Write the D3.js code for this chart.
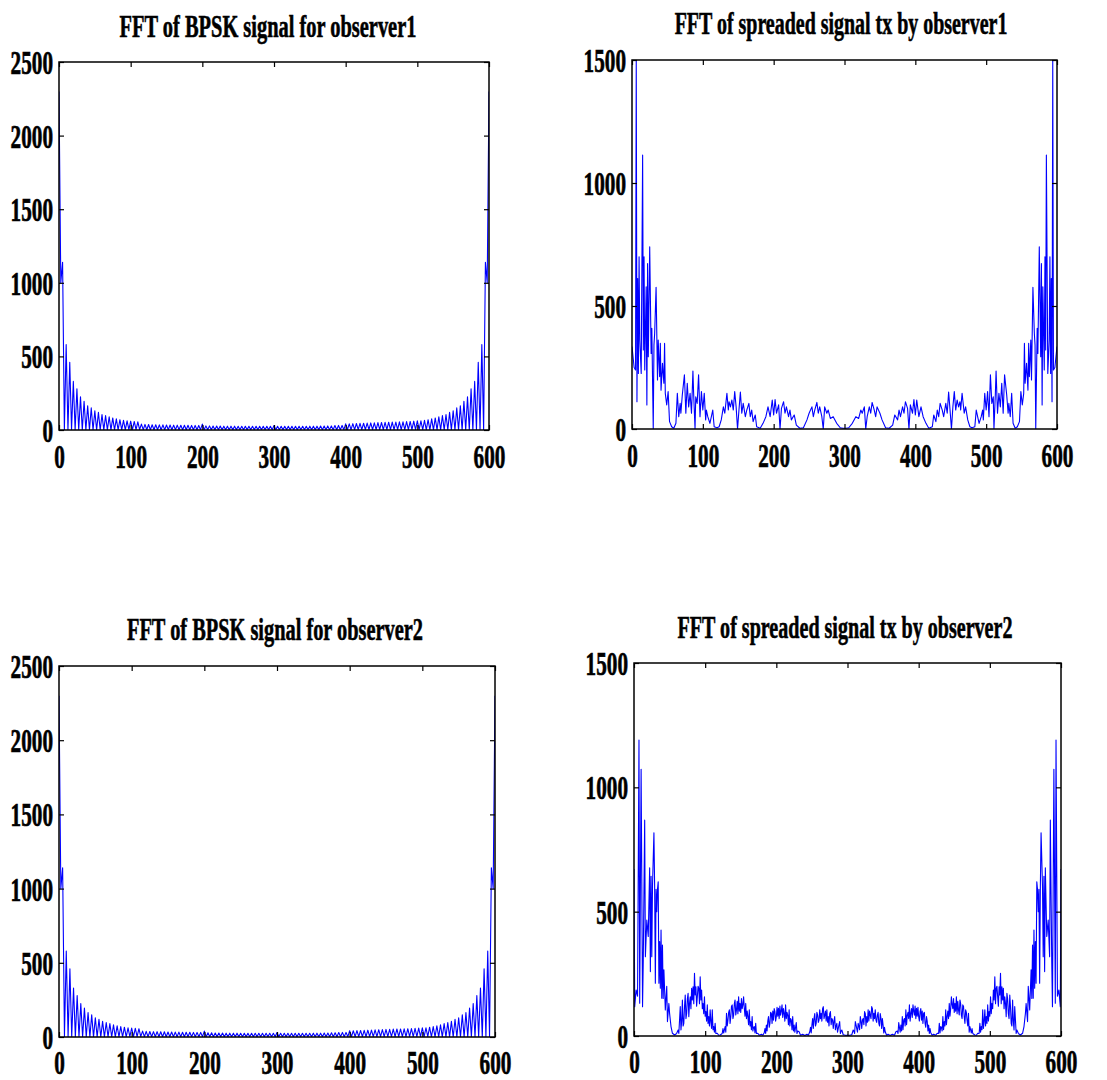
<!DOCTYPE html>
<html>
<head>
<meta charset="utf-8">
<script src="https://cdn.jsdelivr.net/npm/d3@7"></script>
<style>
body { margin: 0; background: #fff; }
svg { display: block; }
text { font-family: "Liberation Serif", "Times New Roman", serif; font-weight: bold; fill: #000; }
</style>
</head>
<body>
<script>
//Width and height
var w = 1107;
var h = 1080;

var xTicks = [0, 100, 200, 300, 400, 500, 600];
var bpskTicks = [0, 500, 1000, 1500, 2000, 2500];
var spreadTicks = [0, 500, 1000, 1500];
var titles = ["FFT of BPSK signal for observer1", "FFT of spreaded signal tx by observer1",
              "FFT of BPSK signal for observer2", "FFT of spreaded signal tx by observer2"];

// |FFT| of the BPSK signal, one value every 2.5 samples (same for both observers)
var bpskStep = 2.5;
var bpskMag = [
  2300,1000,1140,0,580,0,460,0,330,0,280,0,225,0,195,0,165,0,150,0,130,0,120,0,105,0,98,1,90,1,82,1,76,1,70,1,66,1,62,2,
  60,2,58,2,56,2,40,2,38,2,37,2,36,2,36,2,35,2,35,2,34,2,34,2,33,2,33,2,32,2,32,2,32,2,31,2,31,2,31,2,
  40,2,28,2,28,2,27,2,27,2,27,2,26,2,26,2,26,2,26,2,25,2,25,2,25,2,25,2,25,2,25,2,25,2,25,2,25,2,25,2,
  30,2,25,2,25,2,25,2,25,2,25,2,25,2,25,2,25,2,25,2,26,2,26,2,26,2,27,2,27,2,28,2,28,2,30,2,31,2,31,2,
  42,2,42,2,43,2,44,2,45,2,46,2,47,2,48,2,49,2,50,2,51,2,52,2,53,2,54,2,54,2,55,2,56,2,57,2,58,2,60,2,
  62,2,62,2,66,1,70,1,76,1,82,1,90,1,98,1,105,0,120,0,130,0,150,0,165,0,195,0,225,0,280,0,330,0,460,0,580,0,1140,1000,2300
];
var bpskX = bpskMag.map(function(d, i) { return i * bpskStep; });

// spread spectrum, observer1 (sample, magnitude)
var spread1X = [0,3,5,6,7,8,9,10,11,13,15,16,17,18,20,21,22,23,25,27,28,30,31,32,34,36,37,39,40,41,43,45,46,47,49,51,53,56,59,62,
  64,66,68,69,71,74,76,78,80,82,84,86,87,89,90,92,94,96,98,100,102,104,105,107,110,114,116,120,123,126,129,131,134,136,137,139,141,143,145,147,
  149,151,153,155,157,160,162,165,167,169,171,174,176,181,185,189,192,195,198,200,202,204,207,209,211,214,216,218,221,223,225,229,232,237,242,247,250,254,256,258,
  261,263,265,268,270,272,275,277,280,284,289,294,298,300,
  302,306,311,316,320,323,325,328,330,332,335,337,339,342,344,346,350,353,358,363,368,371,375,377,379,382,384,386,389,391,393,396,398,400,402,405,408,411,415,419,
  424,426,429,431,433,435,438,440,443,445,447,449,451,453,455,457,459,461,463,464,466,469,471,474,477,480,484,486,490,493,495,496,498,500,502,504,506,508,510,511,
  513,514,516,518,520,522,524,526,529,531,532,534,536,538,541,544,547,549,551,553,554,555,557,559,560,561,563,564,566,568,569,570,572,573,575,577,578,579,580,582,
  583,584,585,587,589,590,591,592,593,594,595,597,600];
var spread1Y = [335,250,240,1500,111,612,226,700,362,226,1114,321,700,240,578,98,673,294,741,307,409,0,341,389,576,199,362,213,348,158,267,186,348,145,98,152,30,9,3,23,
  145,50,104,64,138,220,64,186,90,145,64,236,145,0,131,104,220,50,152,77,145,37,77,50,23,77,9,5,9,37,90,64,145,77,111,90,118,77,152,90,
  0,77,150,64,104,50,77,104,50,77,30,57,9,3,23,50,90,50,118,57,120,64,98,0,84,111,64,90,50,77,37,57,16,3,5,37,64,90,50,77,
  108,64,90,50,0,90,64,77,43,50,23,5,3,3,
  3,5,23,50,43,77,64,90,0,50,90,64,108,77,50,90,64,37,5,3,16,57,37,77,50,90,64,111,84,0,98,64,120,57,118,50,90,50,23,3,
  9,57,30,77,50,104,77,50,104,64,150,77,0,90,152,77,118,90,111,77,145,64,90,37,9,5,9,77,23,50,77,37,145,77,152,50,220,104,131,0,
  145,236,64,145,90,186,64,220,138,64,104,50,145,23,3,9,30,152,98,145,348,186,267,158,348,213,362,199,576,389,341,0,409,307,741,294,673,98,578,240,
  700,321,1114,226,362,700,226,612,111,1500,240,250,335];

// spread spectrum, observer2: sample positions (runs of consecutive samples via d3.range) and magnitudes
var spread2X = [].concat(
  [0,1,3,5,7,8,10,12,13,15,16,18,20,22,23,24,25,26,28,29,30,31,32,33,34,35,36,37,38,39,40,41,42,44,46,47,49,50,52,54],
  [57,59,60,62,63], d3.range(65, 116), [117,119],
  [121,123,124,125,126,128], d3.range(129, 173), [174,176],
  [179,181,183], d3.range(184, 227), [228,229,230,232,234,237,240],
  [243,245], d3.range(247, 293), [294,296,298,300],
  [302,304,306], d3.range(308, 354), [355,357],
  [360,363,366,368,370,371,372], d3.range(374, 417), [417,419,421],
  [424,426], d3.range(428, 472), [472,474,475,476,477,479],
  [481,483], d3.range(485, 536), [537,538,540,541,543],
  [546,548,550,551,553,554,556,558,559,560,561,562,563,564,565,566,567,568,569,570,571,572,574,575,576,577,578,580,582,584,585,587,588,590,592,593,595,597,599,600]
);
var spread2Y = [].concat(
  [672,118,185,160,1190,132,1073,118,300,868,319,466,400,676,259,642,319,602,817,600,212,590,500,590,620,212,380,192,426,152,366,151,266,105,200,58,131,91,38,11],
  [4,8,11,24,10],
  [118,24,60,145,40,51,120,165,70,91,150,172,78,130,158,110,192,145,198,130,252,165,198,120,158,200,192,130,238,145,185,110,131,90,158,80,98,60,125,50,78,40,105,58,30,105,25,38,15,51,10],
  [11,3],
  [4,8,11,30,12,38],
  [15,91,40,64,95,105,50,78,120,125,70,84,130,145,85,105,140,90,158,100,131,95,151,110,125,158,111,80,131,70,100,78,45,105,40,58,25,78,20,35,38,12,51,10],
  [11,3],
  [7,3,13],
  [30,10,44,20,60,78,35,51,95,91,50,100,64,110,98,60,78,115,80,111,70,120,84,100,125,75,110,91,60,125,70,95,84,45,105,40,70,64,25,78,20,44,15],
  [54,10,20,17,3,7,2],
  [7,3],
  [17,35,12,44,70,30,71,90,40,51,95,84,55,64,105,70,91,60,110,118,70,84,100,60,105,55,78,40,90,98,45,70,64,30,60,78,25,40,51,15,30,45,58,10,20,24],
  [5,4,2,4],
  [2,4,5],
  [24,20,10,58,45,30,15,51,40,25,78,60,30,64,70,45,98,90,40,78,55,105,60,100,84,70,118,110,60,91,70,105,64,55,84,95,51,40,90,71,30,70,44,12,35,17],
  [3,7],
  [2,7,3,17,20,10,54],
  [15,44,20,78,25,64,70,40,105,45,84,95,70,125,60,91,110,75,125,100,84,120,70,111,80,115,78,60,98,110,64,100,50,91,95,51,35,78,60,20,44,10,30],
  [13,3,7],
  [3,11],
  [10,51,12,38,35,20,78,25,58,40,105,45,78,100,70,131,80,111,158,125,110,151,95,131,100,158,90,140,105,85,145,130,84,70,125,120,78,50,105,95,64,40,91,15],
  [38,12,30,11,8,4],
  [3,11],
  [10,51,15,38,25,105,30,58,105,40,78,50,125,60,98,80,158,90,131,110,185,145,238,130,192,200,158,120,198,165,252,130,198,145,192,110,158,130,78,172,150,91,70,165,120,51,40,145,60,24,118],
  [10,24,11,8,4],
  [11,38,91,131,58,200,105,266,151,366,152,426,192,380,212,620,590,500,590,212,600,817,602,319,642,259,676,400,466,319,868,300,118,1073,132,1190,160,185,118,672]
);

function zip(xs, ys) {
    var n = Math.min(xs.length, ys.length);
    return xs.slice(0, n).map(function(d, i) { return [d, ys[i]]; });
}

var panels = [
  { title: titles[0], titleW: 297, tx: 268, ty: 37, x0: 59, x1: 489, y0: 62, y1: 430, lab: 38, yMax: 2500, yTicks: bpskTicks, data: zip(bpskX, bpskMag) },
  { title: titles[1], titleW: 333, tx: 841, ty: 34, x0: 632, x1: 1057, y0: 60, y1: 429, lab: 38, yMax: 1500, yTicks: spreadTicks, data: zip(spread1X, spread1Y) },
  { title: titles[2], titleW: 296, tx: 275, ty: 640, x0: 59, x1: 495, y0: 666, y1: 1037, lab: 37, yMax: 2500, yTicks: bpskTicks, data: zip(bpskX, bpskMag) },
  { title: titles[3], titleW: 335, tx: 845, ty: 638, x0: 634, x1: 1061, y0: 663, y1: 1036, lab: 37, yMax: 1500, yTicks: spreadTicks, data: zip(spread2X, spread2Y) }
];

var digitW = 10.6;
var fmt = d3.format("d");

//Create SVG element
var svg = d3.select("body")
            .append("svg")
            .attr("width", w)
            .attr("height", h);

panels.forEach(function(p, k) {
    var xScale = d3.scaleLinear().domain([0, 600]).range([p.x0, p.x1]);
    var yScale = d3.scaleLinear().domain([0, p.yMax]).range([p.y1, p.y0]);

    svg.append("clipPath")
       .attr("id", "clip" + k)
       .append("rect")
       .attr("x", p.x0).attr("y", p.y0)
       .attr("width", p.x1 - p.x0).attr("height", p.y1 - p.y0);

    //the spectrum
    svg.append("path")
       .datum(p.data)
       .attr("clip-path", "url(#clip" + k + ")")
       .attr("fill", "none")
       .attr("stroke", "#0000ff")
       .attr("stroke-width", 1.1)
       .attr("stroke-linejoin", "round")
       .attr("d", d3.line()
            .x(function(d) { return xScale(d[0]); })
            .y(function(d) { return yScale(d[1]); }));

    //ticks pointing inward on all four sides
    var bottom = svg.append("g")
       .attr("transform", "translate(0," + p.y1 + ")")
       .call(d3.axisBottom(xScale).tickValues(xTicks).tickFormat(fmt).tickSizeInner(-5).tickSizeOuter(0));
    svg.append("g")
       .attr("transform", "translate(0," + p.y0 + ")")
       .call(d3.axisTop(xScale).tickValues(xTicks).tickSizeInner(-5).tickSizeOuter(0).tickFormat(""));
    var left = svg.append("g")
       .attr("transform", "translate(" + p.x0 + ",0)")
       .call(d3.axisLeft(yScale).tickValues(p.yTicks).tickFormat(fmt).tickSizeInner(-5).tickSizeOuter(0).tickPadding(6));
    svg.append("g")
       .attr("transform", "translate(" + p.x1 + ",0)")
       .call(d3.axisRight(yScale).tickValues(p.yTicks).tickSizeInner(-5).tickSizeOuter(0).tickFormat(""));

    svg.selectAll(".domain").remove();
    svg.selectAll(".tick line").attr("stroke", "#000").attr("stroke-width", 1.2);

    bottom.selectAll("text")
       .attr("y", p.lab).attr("dy", 0);
    left.selectAll("text")
       .attr("dy", "0.34em");
    [bottom, left].forEach(function(g) {
        g.selectAll("text")
         .attr("fill", "#000")
         .attr("stroke", "#000")
         .attr("stroke-width", 0.7)
         .attr("font-family", "'Liberation Serif', 'Times New Roman', serif")
         .attr("font-weight", "bold")
         .attr("font-size", "34px")
         .attr("textLength", function(d) { return fmt(d).length * digitW; })
         .attr("lengthAdjust", "spacingAndGlyphs");
    });

    //box
    svg.append("rect")
       .attr("x", p.x0).attr("y", p.y0)
       .attr("width", p.x1 - p.x0).attr("height", p.y1 - p.y0)
       .attr("fill", "none")
       .attr("stroke", "#000")
       .attr("stroke-width", 1.5);

    //title, squeezed horizontally to the width it has in the figure
    var t = svg.append("text")
       .text(p.title)
       .attr("text-anchor", "middle")
       .attr("font-size", "31px")
       .attr("stroke", "#000")
       .attr("stroke-width", 0.6);
    var natural = t.node().getComputedTextLength();
    t.attr("transform", "translate(" + p.tx + "," + p.ty + ") scale(" + (p.titleW / natural) + ",1)");
});
</script>
</body>
</html>
